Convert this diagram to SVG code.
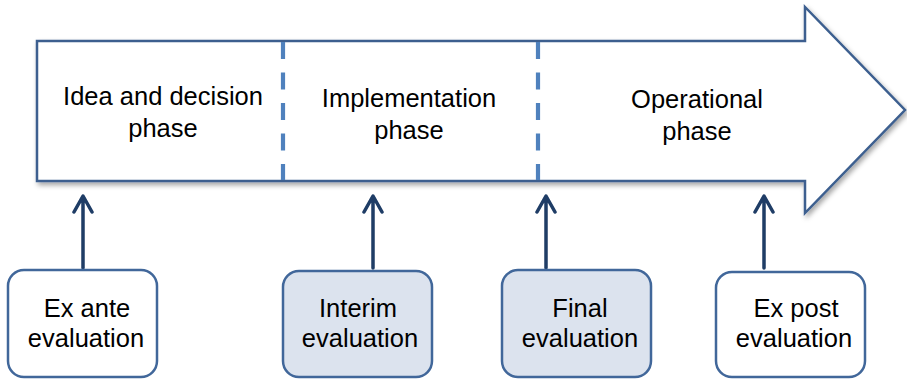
<svg xmlns="http://www.w3.org/2000/svg" width="907" height="379" viewBox="0 0 907 379">
<style>
.t{font-family:"Liberation Sans",Arial,sans-serif;font-size:25.5px;fill:#000;text-anchor:middle}
.box{stroke:#41679a;stroke-width:2.5}
.conn{stroke:#1f3d66;stroke-width:3.5;fill:none;stroke-linecap:round;stroke-linejoin:round}
.dash{stroke:#4f81bd;stroke-width:4.2;stroke-dasharray:17 13.5}
</style>
<defs>
<filter id="sh" x="-5%" y="-10%" width="115%" height="130%">
<feDropShadow dx="2" dy="3" stdDeviation="2.5" flood-color="#000" flood-opacity="0.35"/>
</filter>
</defs>
<g id="phase-arrow">
<path d="M37,41 H805 V7 L905,110 L805,213 V181 H37 Z" fill="#fff" stroke="#3c5f8f" stroke-width="2.5" filter="url(#sh)"/>
<line class="dash" x1="283" y1="42" x2="283" y2="180"/>
<line class="dash" x1="538" y1="42" x2="538" y2="180"/>
<text class="t" x="163" y="105">Idea and decision</text>
<text class="t" x="163" y="137">phase</text>
<text class="t" x="409" y="107">Implementation</text>
<text class="t" x="409" y="139">phase</text>
<text class="t" x="697" y="108">Operational</text>
<text class="t" x="697" y="140">phase</text>
</g>
<g id="connectors">
<path class="conn" d="M83,268 V197 M74,212 L83,196 L92,212"/>
<path class="conn" d="M373,268 V197 M364,212 L373,196 L382,212"/>
<path class="conn" d="M546,268 V197 M537,212 L546,196 L555,212"/>
<path class="conn" d="M764,268 V197 M755,212 L764,196 L773,212"/>
</g>
<g id="ex-ante">
<rect class="box" x="8" y="270" width="149" height="107" rx="16" fill="#fff"/>
<text class="t" x="87" y="317">Ex ante</text>
<text class="t" x="86" y="347">evaluation</text>
</g>
<g id="interim">
<rect class="box" x="283" y="271" width="149" height="106" rx="16" fill="#dce3ee"/>
<text class="t" x="358" y="317">Interim</text>
<text class="t" x="360" y="347">evaluation</text>
</g>
<g id="final">
<rect class="box" x="502" y="270" width="149" height="107" rx="16" fill="#dce3ee"/>
<text class="t" x="580" y="317">Final</text>
<text class="t" x="580" y="347">evaluation</text>
</g>
<g id="ex-post">
<rect class="box" x="716" y="272" width="149" height="105" rx="16" fill="#fff"/>
<text class="t" x="796" y="317">Ex post</text>
<text class="t" x="794" y="347">evaluation</text>
</g>
</svg>
